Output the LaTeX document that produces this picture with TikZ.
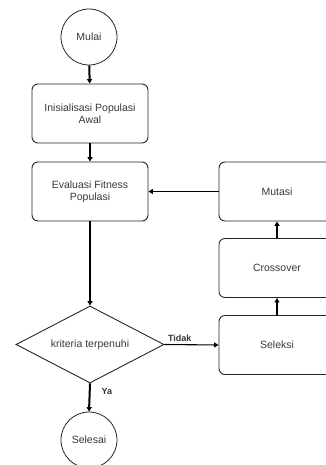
\documentclass[tikz,border=0pt]{standalone}
\usepackage{fontspec}
\setmainfont{Liberation Sans}
\usetikzlibrary{arrows.meta,shapes.geometric}
\begin{document}
\begin{tikzpicture}[x=1pt,y=-1pt,
  txt/.style={text=black!78, font=\fontsize{10.5}{12}\selectfont, align=center},
  proc/.style={txt, draw=black!85, line width=0.9pt, rounded corners=6pt, minimum width=116pt, minimum height=59pt, inner sep=0pt},
  term/.style={txt, draw=black!85, line width=0.8pt, circle, minimum size=56pt, inner sep=0pt},
  dec/.style={txt, draw=black!85, line width=0.9pt, diamond, minimum width=148pt, minimum height=77pt, aspect=1.9, inner sep=0pt},
  thick arr/.style={-{Triangle[length=4.5pt,width=5pt]}, line width=2pt, black},
  thin arr/.style={-{Triangle[length=4.5pt,width=5pt]}, line width=1.1pt, black},
  lbl/.style={font=\bfseries\fontsize{9}{10}\selectfont, text=black!80, inner sep=1pt}]
\useasboundingbox (0,0) rectangle (326,465);
\clip (0,0) rectangle (326,465);
\node[term] (mulai) at (89,37) {Mulai};
\node[proc] (init) at (90,113.5) {Inisialisasi Populasi\\Awal};
\node[proc] (eval) at (90,191.5) {Evaluasi Fitness\\Populasi};
\node[dec] (krit) at (90,344.5) {kriteria terpenuhi};
\node[term] (selesai) at (89,440) {Selesai};
\node[proc] (mutasi) at (277,191.5) {Mutasi};
\node[proc] (cross) at (277,268) {Crossover};
\node[proc] (seleksi) at (277,345) {Seleksi};
\draw[thick arr] (mulai) -- (init);
\draw[thick arr] (init) -- (eval);
\draw[thick arr] (eval.south) -- (krit.north);
\draw[thick arr] (krit.south) -- (selesai.north) node[lbl, pos=0.3, anchor=west, xshift=10pt] {Ya};
\draw[thin arr] (krit.east) -- (seleksi.west) node[lbl, pos=0, anchor=south west, xshift=2pt, yshift=1pt] {Tidak};
\draw[thick arr] (seleksi) -- (cross);
\draw[thick arr] (cross) -- (mutasi);
\draw[thin arr] (mutasi) -- (eval);
\end{tikzpicture}
\end{document}
